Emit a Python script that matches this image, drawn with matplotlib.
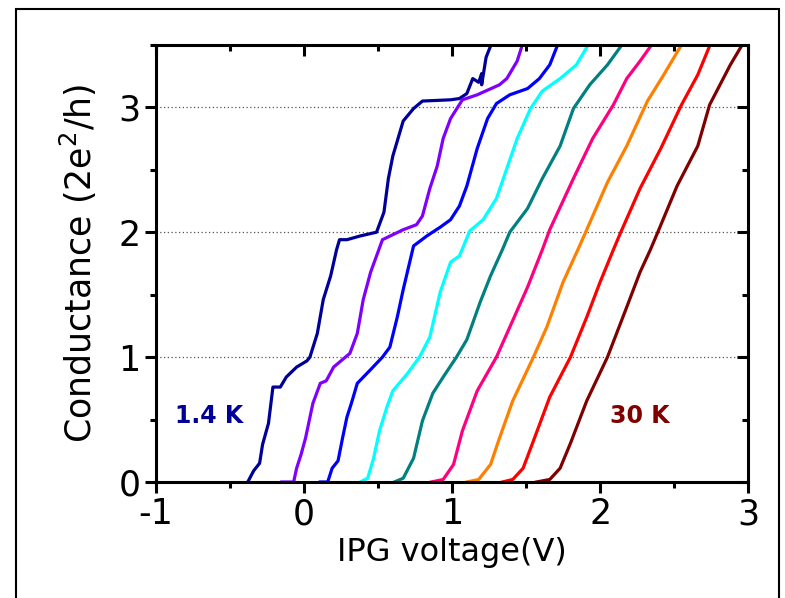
import matplotlib.pyplot as plt
from matplotlib.ticker import MultipleLocator
from matplotlib.patches import Rectangle

# Curve data (gate voltage in V, conductance in 2e^2/h)
# 1.4 K
x_14K = [-0.38, -0.34, -0.30, -0.28, -0.24, -0.21, -0.16, -0.12, -0.05, 0.02, 0.04, 0.09, 0.13,
         0.18, 0.22, 0.24, 0.29, 0.38, 0.49, 0.54, 0.57, 0.60, 0.67, 0.74, 0.80, 0.99, 1.05,
         1.10, 1.14, 1.18, 1.20, 1.20, 1.23, 1.27]
y_14K = [0.0, 0.09, 0.15, 0.30, 0.47, 0.76, 0.76, 0.84, 0.92, 0.97, 1.0, 1.19, 1.46,
         1.65, 1.86, 1.94, 1.94, 1.97, 2.0, 2.16, 2.43, 2.61, 2.89, 2.99, 3.05, 3.06, 3.07,
         3.11, 3.23, 3.20, 3.27, 3.18, 3.40, 3.52]
x_c2 = [-0.15, -0.07, -0.05, -0.02, 0.01, 0.06, 0.11, 0.15, 0.20, 0.27, 0.31, 0.36, 0.40, 0.45,
        0.53, 0.67, 0.76, 0.80, 0.85, 0.90, 0.94, 0.99, 1.07, 1.17, 1.32, 1.37, 1.44, 1.48]
y_c2 = [0.0, 0.0, 0.11, 0.22, 0.35, 0.63, 0.79, 0.81, 0.92, 0.99, 1.03, 1.19, 1.46, 1.68,
        1.94, 2.02, 2.06, 2.13, 2.35, 2.53, 2.75, 2.91, 3.06, 3.10, 3.18, 3.23, 3.37, 3.52]
x_c3 = [0.11, 0.16, 0.19, 0.23, 0.26, 0.29, 0.32, 0.36, 0.45, 0.53, 0.58, 0.63, 0.67, 0.74,
        0.83, 0.92, 0.99, 1.05, 1.10, 1.17, 1.24, 1.30, 1.39, 1.51, 1.59, 1.66, 1.72]
y_c3 = [0.0, 0.0, 0.11, 0.17, 0.35, 0.52, 0.63, 0.79, 0.90, 1.0, 1.08, 1.32, 1.54, 1.89,
        1.97, 2.04, 2.10, 2.21, 2.37, 2.67, 2.91, 3.03, 3.10, 3.15, 3.23, 3.34, 3.52]
x_c4 = [0.38, 0.43, 0.47, 0.51, 0.56, 0.60, 0.70, 0.78, 0.85, 0.92, 0.99, 1.05, 1.12, 1.21,
        1.30, 1.37, 1.44, 1.53, 1.61, 1.73, 1.84, 1.93]
y_c4 = [0.0, 0.03, 0.19, 0.41, 0.60, 0.73, 0.87, 1.0, 1.16, 1.52, 1.76, 1.81, 2.01, 2.10,
        2.27, 2.51, 2.75, 2.99, 3.13, 3.23, 3.34, 3.52]
x_c5 = [0.61, 0.67, 0.74, 0.80, 0.87, 0.94, 1.03, 1.10, 1.19, 1.26, 1.34, 1.39, 1.51, 1.61,
        1.73, 1.82, 1.93, 2.05, 2.16]
y_c5 = [0.0, 0.03, 0.19, 0.49, 0.71, 0.84, 1.0, 1.14, 1.44, 1.65, 1.86, 2.0, 2.19, 2.43,
        2.69, 2.99, 3.18, 3.34, 3.52]
x_c6 = [0.86, 0.94, 1.01, 1.07, 1.17, 1.30, 1.39, 1.51, 1.61, 1.66, 1.82, 1.95, 2.09, 2.18,
        2.27, 2.36]
y_c6 = [0.0, 0.02, 0.14, 0.41, 0.73, 1.0, 1.24, 1.56, 1.86, 2.02, 2.43, 2.75, 3.02, 3.23,
        3.37, 3.52]
x_c7 = [1.10, 1.18, 1.26, 1.32, 1.41, 1.55, 1.64, 1.75, 1.85, 1.91, 2.05, 2.18, 2.32, 2.43, 2.56]
y_c7 = [0.0, 0.02, 0.14, 0.35, 0.65, 1.0, 1.24, 1.60, 1.86, 2.02, 2.40, 2.69, 3.05, 3.26, 3.52]
x_c8 = [1.34, 1.41, 1.48, 1.55, 1.66, 1.80, 1.91, 2.0, 2.09, 2.14, 2.27, 2.41, 2.55, 2.66, 2.75]
y_c8 = [0.0, 0.02, 0.11, 0.33, 0.68, 1.0, 1.32, 1.60, 1.86, 2.0, 2.35, 2.67, 3.02, 3.26, 3.52]
# 30 K
x_30K = [1.57, 1.66, 1.73, 1.80, 1.91, 2.05, 2.18, 2.27, 2.34, 2.39, 2.52, 2.66, 2.74, 2.88, 2.97]
y_30K = [0.0, 0.02, 0.11, 0.31, 0.65, 1.0, 1.40, 1.68, 1.86, 2.0, 2.37, 2.69, 3.02, 3.34, 3.52]

curves = [(x_14K, y_14K), (x_c2, y_c2), (x_c3, y_c3), (x_c4, y_c4), (x_c5, y_c5),
          (x_c6, y_c6), (x_c7, y_c7), (x_c8, y_c8), (x_30K, y_30K)]
colors = ["#000099", "#8000FF", "#0000FF", "#00FFFF", "#008080",
          "#FF0080", "#FF8000", "#FF0000", "#800000"]

plt.rcParams["font.family"] = ["DejaVu Sans"]
plt.rcParams["axes.unicode_minus"] = False

fig = plt.figure(figsize=(7.85, 5.98), dpi=100)
ax = fig.add_axes([0.1987, 0.194, 0.7543, 0.731])

# frame round the whole figure
fig.patches.append(Rectangle((16 / 785, -0.05), 763 / 785, 1.05 - 9 / 598,
                             transform=fig.transFigure, fill=False, lw=1.5,
                             edgecolor="black"))

for (xs, ys), c in zip(curves, colors):
    ax.plot(xs, ys, color=c, lw=2.3)

ax.set_xlim(-1, 3)
ax.set_ylim(0, 3.5)
ax.xaxis.set_major_locator(MultipleLocator(1))
ax.xaxis.set_minor_locator(MultipleLocator(0.5))
ax.yaxis.set_major_locator(MultipleLocator(1))
ax.yaxis.set_minor_locator(MultipleLocator(0.5))

for y in [1, 2, 3]:
    ax.axhline(y, color="#555555", lw=0.9, ls=(0, (1, 2)), zorder=0)

for sp in ax.spines.values():
    sp.set_linewidth(2.2)

# outward ticks on left/bottom, inward on top/right
ax.tick_params(which="major", direction="out", length=8, width=2.2, labelsize=25,
               pad=3)
ax.tick_params(which="minor", direction="out", length=4, width=2.2)
ax.tick_params(which="both", top=True, right=True)
for t in ax.xaxis.get_ticklines(minor=False)[1::2] + ax.xaxis.get_ticklines(minor=True)[1::2]:
    t.set_marker(3)  # top ticks pointing down
for t in ax.yaxis.get_ticklines(minor=False)[1::2] + ax.yaxis.get_ticklines(minor=True)[1::2]:
    t.set_marker(0)  # right ticks pointing left

ax.set_xlabel("IPG voltage(V)", fontsize=23, labelpad=4)
ax.set_ylabel("Conductance (2e$^{2}$/h)", fontsize=25, labelpad=14)

ax.text(-0.87, 0.53, "1.4 K", color="#000099", fontsize=17, fontweight="bold",
        va="center")
ax.text(2.07, 0.53, "30 K", color="#800000", fontsize=17, fontweight="bold",
        va="center")

fig.savefig("out.png", dpi=100)
